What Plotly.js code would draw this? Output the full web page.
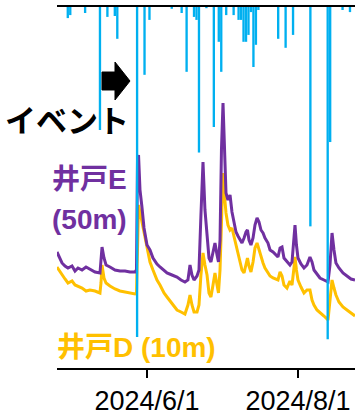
<!DOCTYPE html>
<html><head><meta charset="utf-8">
<script src="https://cdn.plot.ly/plotly-3.0.1.min.js"></script>
<style>html,body{margin:0;padding:0;background:#fff}#chart{width:355px;height:418px}</style>
</head><body><div id="chart"></div>
<script>
// Well water level samples (m, relative)
const levelDates = [
'2024-04-25 15:00','2024-04-26 20:00','2024-04-27 16:00','2024-04-28 21:00','2024-04-30 02:00',
'2024-05-01 17:00','2024-05-02 22:00','2024-05-04 03:00','2024-05-05 18:00','2024-05-07 09:00',
'2024-05-08 23:00','2024-05-11 00:00','2024-05-13 00:00','2024-05-13 10:00','2024-05-13 20:00',
'2024-05-14 15:00','2024-05-15 11:00','2024-05-17 01:00','2024-05-19 02:00','2024-05-21 02:00',
'2024-05-23 03:00','2024-05-25 03:00','2024-05-27 04:00','2024-05-27 18:00','2024-05-28 04:00',
'2024-05-28 14:00','2024-05-29 04:00','2024-05-29 23:00','2024-05-30 19:00','2024-06-01 00:00',
'2024-06-02 05:00','2024-06-03 10:00','2024-06-05 01:00','2024-06-06 06:00','2024-06-07 21:00',
'2024-06-09 02:00','2024-06-11 02:00','2024-06-13 03:00','2024-06-14 18:00','2024-06-16 08:00',
'2024-06-17 13:00','2024-06-18 09:00','2024-06-19 04:00','2024-06-20 00:00','2024-06-21 05:00',
'2024-06-22 00:00','2024-06-22 19:00','2024-06-23 15:00','2024-06-24 10:00','2024-06-25 06:00',
'2024-06-26 01:00','2024-06-26 20:00','2024-06-27 16:00','2024-06-28 11:00','2024-06-29 07:00',
'2024-06-29 21:00','2024-06-30 12:00','2024-07-01 02:00','2024-07-01 17:00','2024-07-02 07:00',
'2024-07-02 22:00','2024-07-03 17:00','2024-07-04 13:00','2024-07-05 08:00','2024-07-06 04:00',
'2024-07-06 23:00','2024-07-07 18:00','2024-07-08 14:00','2024-07-09 09:00','2024-07-10 05:00',
'2024-07-11 00:00','2024-07-11 14:00','2024-07-12 05:00','2024-07-13 00:00','2024-07-13 20:00',
'2024-07-14 15:00','2024-07-15 11:00','2024-07-16 06:00','2024-07-17 01:00','2024-07-17 21:00',
'2024-07-18 16:00','2024-07-19 21:00','2024-07-20 17:00','2024-07-21 22:00','2024-07-23 03:00',
'2024-07-23 22:00','2024-07-24 18:00','2024-07-25 13:00','2024-07-26 08:00','2024-07-27 13:00',
'2024-07-28 18:00','2024-07-29 14:00','2024-07-30 09:00','2024-07-30 19:00','2024-07-31 09:00',
'2024-08-01 00:00','2024-08-02 05:00','2024-08-03 10:00','2024-08-04 15:00','2024-08-05 20:00',
'2024-08-06 16:00','2024-08-07 11:00','2024-08-08 16:00','2024-08-09 21:00','2024-08-11 12:00',
'2024-08-13 03:00','2024-08-13 22:00','2024-08-14 18:00','2024-08-15 13:00','2024-08-16 08:00',
'2024-08-17 13:00','2024-08-19 04:00','2024-08-20 19:00','2024-08-22 10:00','2024-08-24 01:00'
];
const wellE = [
1.16,1.10,1.05,1.02,1.00, 1.02,0.97,1.00,0.98,1.01, 0.99,0.96,0.95,1.06,1.21,
1.10,1.03,1.01,0.98,0.97, 0.97,0.96,0.96,0.98,2.08, 2.13,1.78,1.61,1.40,1.23,
1.18,1.10,1.04,1.01,0.97, 0.95,0.93,0.91,0.88,0.86, 0.88,1.03,0.93,0.88,0.92,
0.98,1.53,2.06,1.58,1.28, 1.10,1.06,1.16,1.25,1.13, 1.06,1.28,2.18,2.65,2.18,
1.75,1.68,1.73,1.56,1.46, 1.36,1.32,1.28,1.25,1.30, 1.36,1.38,1.28,1.23,1.30,
1.43,1.50,1.46,1.38,1.35, 1.30,1.25,1.18,1.16,1.13, 1.11,1.20,1.21,1.10,1.07,
1.03,1.06,1.28,1.43,1.23, 1.10,1.04,1.00,1.03,1.11, 1.06,0.98,0.94,0.90,0.88,
0.86,1.03,1.35,1.18,1.05, 1.00,0.95,0.92,0.89,0.88
];
const wellD = [
1.01,0.96,0.93,0.89,0.85, 0.87,0.83,0.82,0.80,0.77, 0.78,0.77,0.75,0.85,1.03,
0.90,0.85,0.82,0.79,0.77, 0.76,0.75,0.74,0.75,1.18, 1.63,1.56,1.46,1.33,1.18,
1.06,0.98,0.88,0.83,0.75, 0.71,0.65,0.58,0.56,0.54, 0.63,0.73,0.63,0.56,0.56,
0.63,0.93,1.15,1.03,0.93, 0.75,0.71,0.83,0.95,0.83, 0.75,0.98,1.58,1.95,1.73,
1.55,1.43,1.38,1.40,1.31, 1.21,1.13,1.06,0.98,0.95, 1.03,1.10,1.02,0.96,1.06,
1.20,1.25,1.18,1.11,1.05, 1.00,0.95,0.92,0.90,0.89, 0.88,0.96,0.92,0.83,0.80,
0.87,0.83,1.00,1.11,0.98, 0.88,0.81,0.75,0.78,0.78, 0.68,0.63,0.58,0.55,0.52,
0.48,0.68,0.88,0.80,0.73, 0.66,0.61,0.58,0.55,0.52
];
// Daily rainfall (mm)
const rainDates = [
'2024-04-30','2024-05-01','2024-05-07','2024-05-13','2024-05-16','2024-05-19','2024-05-20',
'2024-05-28','2024-05-31','2024-06-02','2024-06-11','2024-06-15','2024-06-17','2024-06-20',
'2024-06-21','2024-06-22','2024-06-25','2024-06-28','2024-06-30','2024-07-01','2024-07-03',
'2024-07-06','2024-07-08','2024-07-09','2024-07-10','2024-07-11','2024-07-12','2024-07-13',
'2024-07-14','2024-07-15','2024-07-16','2024-07-24','2024-07-27','2024-07-30','2024-08-06',
'2024-08-13','2024-08-14','2024-08-19','2024-08-22'
];
const rain = [
3.7,2.7,2.0,41.0,3.3,3.0,10.6,
110.0,22.6,4.3,0.6,2.0,21.6,3.3,
4.3,48.5,0.4,40.0,11.6,21.6,2.7,
2.7,4.3,4.3,11.6,11.6,9.3,1.7,
20.0,12.6,1.0,10.6,13.6,9.3,73.1,
110.7,45.0,1.0,1.7
];
const tickDates = ['2024-06-01','2024-08-01'];
const tickLabels = ['2024/6/1','2024/8/1'];

const PURPLE = '#7030A0', GOLD = '#FFC000', CYAN = '#00B0F0';
const FONT = 'Liberation Sans, Arial, Noto Sans CJK JP, sans-serif';

const traces = [
  {x: levelDates, y: wellD, type: 'scatter', mode: 'lines', line: {color: GOLD, width: 3}, yaxis: 'y', hoverinfo: 'skip'},
  {x: levelDates, y: wellE, type: 'scatter', mode: 'lines', line: {color: PURPLE, width: 3}, yaxis: 'y', hoverinfo: 'skip'},
  {x: rainDates, y: rain, type: 'bar', marker: {color: CYAN, line: {width: 0}}, width: 0.95 * 86400000, yaxis: 'y2', hoverinfo: 'skip'}
];

const layout = {
  width: 355, height: 418,
  margin: {l: 57, r: 0, t: 7, b: 50},
  paper_bgcolor: '#fff', plot_bgcolor: '#fff',
  showlegend: false,
  font: {family: FONT, color: '#000'},
  xaxis: {
    type: 'date', range: ['2024-04-25 15:24', '2024-08-24 00:43'],
    showgrid: false, zeroline: false,
    showline: true, linecolor: '#000', linewidth: 2, mirror: true,
    ticks: 'outside', ticklen: 8, tickwidth: 2, tickcolor: '#000',
    tickmode: 'array', tickvals: tickDates, ticktext: tickLabels,
    tickfont: {size: 27, family: FONT, color: '#000'}
  },
  yaxis: {range: [0, 3.61], visible: false, showgrid: false, zeroline: false, fixedrange: true},
  yaxis2: {range: [120.3, 0], overlaying: 'y', visible: false, showgrid: false, zeroline: false},
  shapes: [{
    type: 'path', xref: 'paper', yref: 'paper',
    path: 'M 0.1510 0.8199 L 0.1946 0.8199 L 0.1946 0.8476 L 0.2450 0.7950 L 0.1946 0.7424 L 0.1946 0.7701 L 0.1510 0.7701 Z',
    fillcolor: '#000', line: {color: '#000', width: 1}
  }],
  annotations: [
    {text: 'イベント', xref: 'paper', yref: 'paper', x: 0.0319, y: 0.6925, xanchor: 'center', yanchor: 'middle', showarrow: false,
     font: {size: 31, family: 'Noto Sans CJK JP, sans-serif', weight: 'bold', color: '#000'}},
    {text: '井戸E', xref: 'paper', yref: 'paper', x: 0.1074, y: 0.5208, xanchor: 'center', yanchor: 'middle', showarrow: false,
     font: {size: 28, family: FONT, weight: 'bold', color: PURPLE}},
    {text: '(50m)', xref: 'paper', yref: 'paper', x: 0.1074, y: 0.4114, xanchor: 'center', yanchor: 'middle', showarrow: false,
     font: {size: 28, family: FONT, weight: 'bold', color: PURPLE}},
    {text: '井戸D (10m)', xref: 'paper', yref: 'paper', x: 0.2668, y: 0.0568, xanchor: 'center', yanchor: 'middle', showarrow: false,
     font: {size: 28, family: FONT, weight: 'bold', color: GOLD}}
  ]
};

Plotly.newPlot('chart', traces, layout, {displayModeBar: false, staticPlot: true});
</script></body></html>
